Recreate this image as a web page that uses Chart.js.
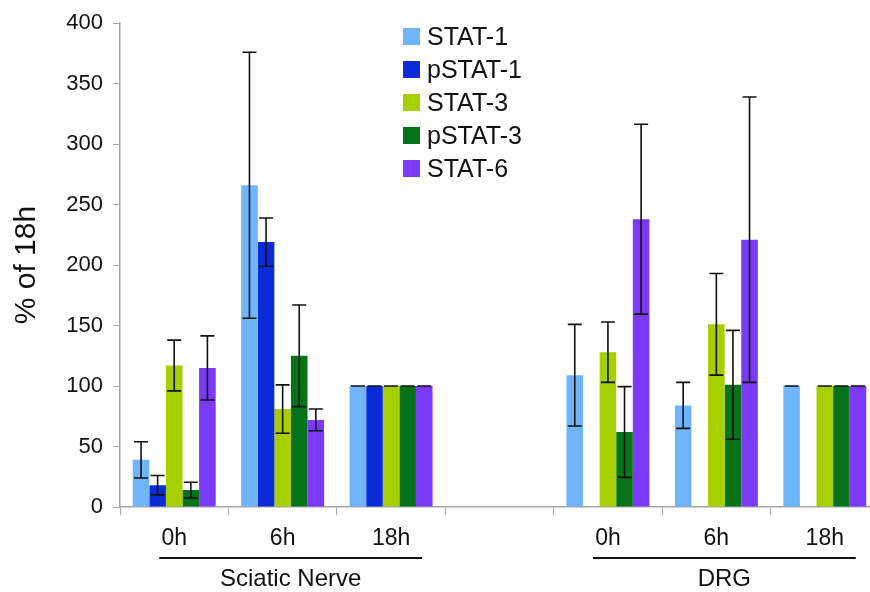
<!DOCTYPE html>
<html>
<head>
<meta charset="utf-8">
<title>STAT % of 18h</title>
<script src="https://cdn.jsdelivr.net/npm/chart.js@4.4.1/dist/chart.umd.min.js"></script>
<style>
  html, body { margin: 0; padding: 0; background: #fff; overflow: hidden; }
  #wrap { width: 882px; height: 592px; }
</style>
</head>
<body>
<div id="wrap"><canvas id="barChart" width="882" height="592"></canvas></div>
<script>
// dữ liệu
const categories = ['0h', '6h', '18h', '', '0h', '6h', '18h'];
const seriesNames = ['STAT-1', 'pSTAT-1', 'STAT-3', 'pSTAT-3', 'STAT-6'];
const seriesColors = ['#70B5FB', '#0A2BD6', '#A6CE00', '#067219', '#7B3AF8'];

const stat1 = [39, 266, 100, null, 109, 84, 100];
const stat1Err = [15, 110, 0, null, 42, 19, 0];
const pstat1 = [18, 219, 100, null, null, null, null];
const pstat1Err = [8, 20, 0, null, null, null, null];
const stat3 = [117, 81, 100, null, 128, 151, 100];
const stat3Err = [21, 20, 0, null, 25, 42, 0];
const pstat3 = [14, 125, 100, null, 62, 101, 100];
const pstat3Err = [6.5, 42, 0, null, 37.5, 45, 0];
const stat6 = [115, 72, 100, null, 238, 221, 100];
const stat6Err = [26.5, 9, 0, null, 78.5, 118, 0];

const yTicks = [0, 50, 100, 150, 200, 250, 300, 350, 400];
const groups = [
    { label: 'Sciatic Nerve', from: 0, to: 2 },
    { label: 'DRG', from: 4, to: 6 }
];

const seriesValues = [stat1, pstat1, stat3, pstat3, stat6];
const seriesErrors = [stat1Err, pstat1Err, stat3Err, pstat3Err, stat6Err];

const FONT = '"Liberation Sans", Arial, sans-serif';

// vẽ thanh sai số
const errorBarPlugin = {
    id: 'errorBars',
    afterDatasetsDraw(chart) {
        const ctx = chart.ctx;
        const y = chart.scales.y;
        ctx.save();
        ctx.strokeStyle = '#111';
        ctx.lineWidth = 1.6;
        chart.data.datasets.forEach((ds, i) => {
            const meta = chart.getDatasetMeta(i);
            meta.data.forEach((bar, j) => {
                const v = ds.data[j];
                const e = ds.errors[j];
                if (v === null || e === null) return;
                const x = bar.x;
                const top = y.getPixelForValue(v + e);
                const bot = y.getPixelForValue(v - e);
                const cap = 7;
                ctx.beginPath();
                ctx.moveTo(x, top); ctx.lineTo(x, bot);
                ctx.moveTo(x - cap, top); ctx.lineTo(x + cap, top);
                ctx.moveTo(x - cap, bot); ctx.lineTo(x + cap, bot);
                ctx.stroke();
            });
        });
        ctx.restore();
    }
};

// chú thích và nhóm bên dưới trục x
const decorPlugin = {
    id: 'decor',
    afterDraw(chart) {
        const ctx = chart.ctx;
        const x = chart.scales.x;
        ctx.save();
        // legend
        ctx.font = '25px ' + FONT;
        ctx.textBaseline = 'middle';
        ctx.textAlign = 'left';
        chart.data.datasets.forEach((ds, i) => {
            const cy = 37 + i * 33;
            ctx.fillStyle = ds.backgroundColor;
            ctx.fillRect(403, cy - 9, 17, 17);
            ctx.fillStyle = '#111';
            ctx.fillText(ds.label, 427, cy + 1);
        });
        // group lines
        ctx.strokeStyle = '#111';
        ctx.lineWidth = 2;
        ctx.font = '24px ' + FONT;
        ctx.textAlign = 'center';
        groups.forEach(g => {
            const x1 = x.getPixelForValue(g.from) - 15;
            const x2 = x.getPixelForValue(g.to) + 31;
            ctx.beginPath();
            ctx.moveTo(x1, 558); ctx.lineTo(x2, 558);
            ctx.stroke();
            ctx.fillText(g.label, (x1 + x2) / 2, 579);
        });
        ctx.restore();
    }
};

const ctx = document.getElementById('barChart').getContext('2d');
new Chart(ctx, {
    type: 'bar',
    data: {
        labels: categories,
        datasets: seriesNames.map((name, i) => ({
            label: name,
            data: seriesValues[i],
            errors: seriesErrors[i],
            backgroundColor: seriesColors[i],
            borderWidth: 0,
            categoryPercentage: 0.765,
            barPercentage: 1
        }))
    },
    options: {
        responsive: false,
        animation: false,
        layout: { padding: { top: 20, right: 3, left: 0, bottom: 0 } },
        plugins: {
            legend: { display: false },
            tooltip: { enabled: false }
        },
        scales: {
            x: {
                grid: { display: true, drawOnChartArea: false, offset: true, color: '#a6a6a6', tickLength: 8 },
                border: { color: '#a6a6a6', width: 1.5 },
                ticks: { color: '#111', font: { family: FONT, size: 23 }, padding: 10, maxRotation: 0 },
                afterFit(scale) { scale.height = 85; }
            },
            y: {
                min: 0,
                max: 400,
                afterBuildTicks(scale) { scale.ticks = yTicks.map(v => ({ value: v })); },
                grid: { display: true, drawOnChartArea: false, color: '#a6a6a6', tickLength: 7 },
                border: { color: '#a6a6a6', width: 1.5 },
                ticks: { color: '#111', font: { family: FONT, size: 22 }, padding: 10 },
                title: {
                    display: true,
                    text: '% of 18h',
                    color: '#111',
                    font: { family: FONT, size: 30 },
                    padding: { top: 9, bottom: 0 }
                },
                afterFit(scale) { scale.width = 120; }
            }
        }
    },
    plugins: [errorBarPlugin, decorPlugin]
});
</script>
</body>
</html>
